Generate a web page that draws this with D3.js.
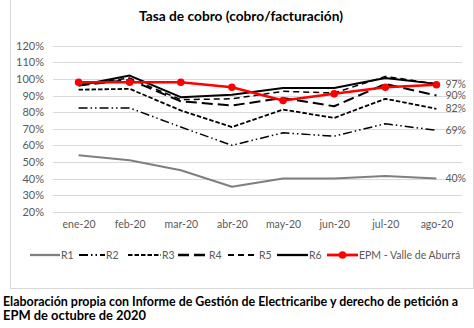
<!DOCTYPE html>
<html><head><meta charset="utf-8">
<script src="https://cdn.jsdelivr.net/npm/d3@7"></script>
<style>body{margin:0;background:#fff}svg{display:block}</style>
</head><body><svg id="c" width="474" height="328"></svg>
<script>
const months = ["ene-20","feb-20","mar-20","abr-20","may-20","jun-20","jul-20","ago-20"];
const yTicks = [20,30,40,50,60,70,80,90,100,110,120];
const seriesNames = ["R1","R2","R3","R4","R5","R6","EPM - Valle de Aburrá"];
const R1 = [54, 51, 45, 35, 40, 40, 41.5, 40];
const R2 = [82.5, 82.5, 71, 60, 67.5, 65.5, 73, 69];
const R3 = [93.5, 94, 81, 71, 81.5, 76.5, 88, 82];
const R4 = [96, 99.5, 86.5, 84, 88.5, 83.5, 97, 90];
const R5 = [96.5, 100.5, 87.5, 88, 92.5, 91.5, 101.5, 97];
const R6 = [96, 102, 89, 90.5, 94.5, 94.5, 100.5, 97];
const EPM = [98, 98, 98, 95, 87, 91, 95, 96.5];
const endLabels = ["97%","90%","82%","69%","40%"];
const endLabelValues = [97, 90, 82, 69, 40];

const styles = [
  {color:"#7f7f7f", w:2, dash:null},
  {color:"#000", w:1.5, dash:"9,3,1.5,3,1.5,3"},
  {color:"#000", w:1.8, dash:"4.5,2"},
  {color:"#000", w:2, dash:"11,5"},
  {color:"#000", w:1.5, dash:"6,4"},
  {color:"#000", w:2, dash:null},
  {color:"#ff0000", w:2.5, dash:null, marker:true}
];
const data = [R1,R2,R3,R4,R5,R6,EPM];

const svg = d3.select("#c");
const font = "Lato, 'Open Sans', sans-serif";

svg.append("rect").attr("x",10.5).attr("y",-1).attr("width",463).attr("height",289.5)
  .attr("fill","none").attr("stroke","#d9d9d9");

const x = d3.scalePoint().domain(months).range([53,462]).padding(0.5);
const y = d3.scaleLinear().domain([20,120]).range([211.7,45.7]);

svg.append("g").selectAll("line").data(yTicks).join("line")
  .attr("x1",53).attr("x2",462).attr("y1",d=>Math.round(y(d))+0.5).attr("y2",d=>Math.round(y(d))+0.5)
  .attr("stroke","#d9d9d9").attr("stroke-width",1);

const ya = svg.append("g").attr("transform","translate(44,0)")
  .call(d3.axisLeft(y).tickValues(yTicks).tickFormat(d=>d+"%").tickSize(0).tickPadding(0));
ya.select(".domain").remove();
ya.selectAll("text").attr("font-family",font).attr("font-size",11).attr("fill","#595959");

const xa = svg.append("g").attr("transform","translate(0,221)")
  .call(d3.axisBottom(x).tickSize(0).tickPadding(0));
xa.select(".domain").remove();
xa.selectAll("text").attr("font-family",font).attr("font-size",10.5).attr("fill","#595959").attr("dy","0.71em");

const line = d3.line().x((d,i)=>x(months[i])).y(d=>y(d));
data.forEach((arr,k)=>{
  const s = styles[k];
  svg.append("path").datum(arr).attr("d",line).attr("fill","none")
    .attr("stroke",s.color).attr("stroke-width",s.w)
    .attr("stroke-dasharray",s.dash).attr("stroke-linejoin","round");
  if(s.marker){
    svg.append("g").selectAll("circle").data(arr).join("circle")
      .attr("cx",(d,i)=>x(months[i])).attr("cy",d=>y(d)).attr("r",3.8).attr("fill",s.color);
  }
});

svg.append("g").selectAll("text").data(endLabelValues).join("text")
  .attr("x",x(months[7])+9).attr("y",d=>y(d)).attr("dy","0.35em")
  .attr("font-family",font).attr("font-size",10.5).attr("fill","#595959")
  .text((d,i)=>endLabels[i]);

svg.append("text").attr("x",241).attr("y",21).attr("text-anchor","middle")
  .attr("font-family",font).attr("font-weight","bold").attr("font-size",13.5).attr("fill","#000")
  .attr("textLength",204).attr("lengthAdjust","spacingAndGlyphs")
  .text("Tasa de cobro (cobro/facturación)");

const legX = [30,79,128,178,228,277,327];
const legW = [30,26,33,30,30,31,31];
const lg = svg.append("g");
seriesNames.forEach((n,k)=>{
  const s = styles[k];
  lg.append("line").attr("x1",legX[k]).attr("x2",legX[k]+legW[k]).attr("y1",255).attr("y2",255)
    .attr("stroke",s.color).attr("stroke-width",s.w+0.3).attr("stroke-dasharray",s.dash);
  if(s.marker) lg.append("circle").attr("cx",legX[k]+legW[k]/2).attr("cy",255).attr("r",3.8).attr("fill",s.color);
  lg.append("text").attr("x",legX[k]+legW[k]+1).attr("y",255).attr("dy","0.35em")
    .attr("font-family",font).attr("font-size",10.5).attr("fill","#595959").text(n);
});

const cap = ["Elaboración propia con Informe de Gestión de Electricaribe y derecho de petición a","EPM de octubre de 2020"];
const capLen = [455, 143];
svg.append("g").selectAll("text").data(cap).join("text")
  .attr("x",3).attr("y",(d,i)=>306+i*14)
  .attr("font-family",font).attr("font-weight","bold").attr("font-size",12.5).attr("fill","#000")
  .attr("textLength",(d,i)=>capLen[i]).attr("lengthAdjust","spacingAndGlyphs")
  .text(d=>d);
</script></body></html>
